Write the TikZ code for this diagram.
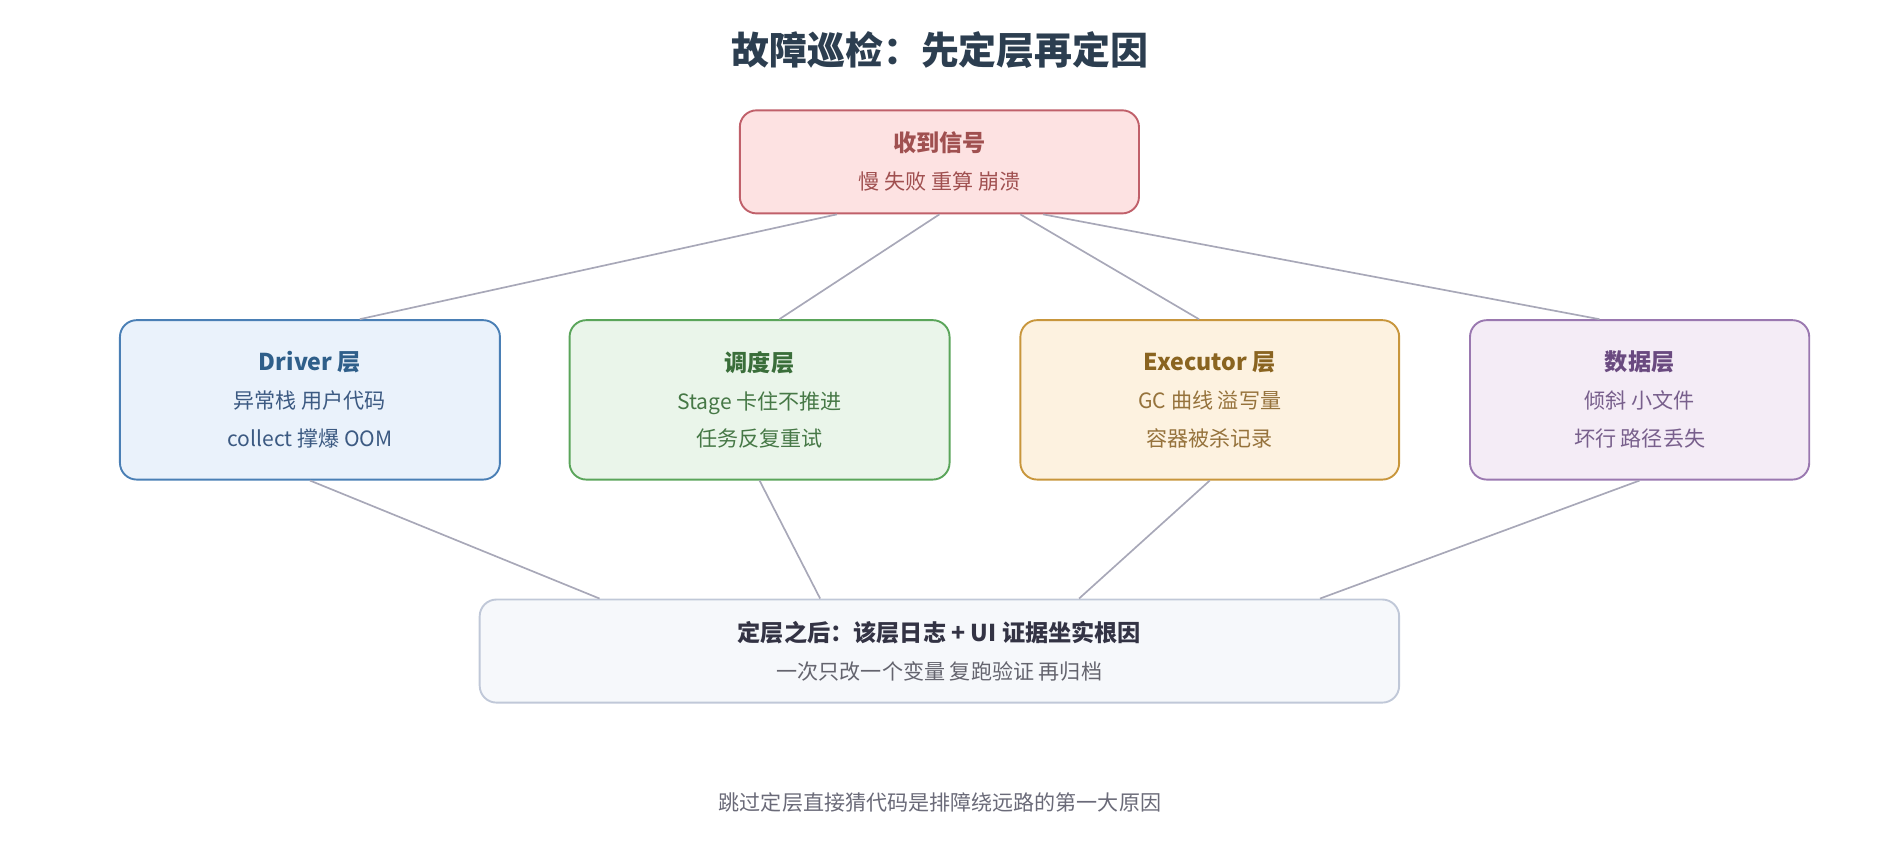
\documentclass[tikz,border=0pt]{standalone}
\usepackage{fontspec}
\setmainfont{Noto Sans CJK SC}
\usetikzlibrary{positioning}
\definecolor{titlecol}{HTML}{2C3E50}
\definecolor{linkcol}{HTML}{A8A8B8}
\begin{document}
\begin{tikzpicture}[x=0.02cm,y=-0.02cm,
layer/.style={draw, rounded corners=0.28cm, line width=0.9pt, align=center, inner sep=0pt,
  font=\fontsize{10}{18}\selectfont},
link/.style={draw=linkcol, line width=0.8pt}]
    \useasboundingbox (0,0) rectangle (1568,717);
    \node (title) at (784,42) {\fontsize{18}{22}\selectfont\bfseries\color{titlecol}故障巡检：先定层再定因};
    \node [layer, fill={rgb,255:red,253;green,226;blue,226}, draw={rgb,255:red,192;green,96;blue,106},
      minimum width=6.66cm, minimum height=1.72cm, text={rgb,255:red,160;green,80;blue,80}]
      (sig) at (783.5,135) {{\fontsize{11}{18}\selectfont\bfseries 收到信号}\\ 慢 失败 重算 崩溃};
    \node [layer, fill={rgb,255:red,234;green,242;blue,251}, draw={rgb,255:red,74;green,127;blue,181},
      minimum width=6.34cm, minimum height=2.66cm, text={rgb,255:red,60;green,90;blue,130}]
      (drv) at (258.5,333.5) {{\fontsize{11}{18}\selectfont\bfseries\color[HTML]{2F5F8A}Driver 层}\\ 异常栈 用户代码\\ collect 撑爆 OOM};
    \node [layer, fill={rgb,255:red,234;green,245;blue,234}, draw={rgb,255:red,90;green,165;blue,90},
      minimum width=6.34cm, minimum height=2.66cm, text={rgb,255:red,70;green,120;blue,70}]
      (sch) at (633.5,333.5) {{\fontsize{11}{18}\selectfont\bfseries\color[HTML]{3A6E3A}调度层}\\ Stage 卡住不推进\\ 任务反复重试};
    \node [layer, fill={rgb,255:red,253;green,242;blue,224}, draw={rgb,255:red,200;green,150;blue,60},
      minimum width=6.32cm, minimum height=2.66cm, text={rgb,255:red,150;green,115;blue,60}]
      (exe) at (1009,333.5) {{\fontsize{11}{18}\selectfont\bfseries\color[HTML]{8A6420}Executor 层}\\ GC 曲线 溢写量\\ 容器被杀记录};
    \node [layer, fill={rgb,255:red,244;green,236;blue,246}, draw={rgb,255:red,154;green,120;blue,176},
      minimum width=5.66cm, minimum height=2.66cm, text={rgb,255:red,120;green,95;blue,140}]
      (dat) at (1367.5,333.5) {{\fontsize{11}{18}\selectfont\bfseries\color[HTML]{6A4A80}数据层}\\ 倾斜 小文件\\ 坏行 路径丢失};
    \node [layer, fill={rgb,255:red,246;green,248;blue,251}, draw={rgb,255:red,192;green,200;blue,216},
      minimum width=15.34cm, minimum height=1.72cm, text={rgb,255:red,100;green,100;blue,110}]
      (fix) at (783.5,543) {{\fontsize{11}{18}\selectfont\bfseries\color[HTML]{333344}定层之后：该层日志 + UI 证据坐实根因}\\ 一次只改一个变量 复跑验证 再归档};
    \node (foot) at (784,669) {\fontsize{10}{12}\selectfont\color[HTML]{6A6A78}跳过定层直接猜代码是排障绕远路的第一大原因};
    % links
    \draw [link] ([xshift=-1.71cm]sig.south) -- ([xshift=0.83cm]drv.north);
    \draw [link] (sig.south) -- ([xshift=0.33cm]sch.north);
    \draw [link] ([xshift=1.35cm]sig.south) -- ([xshift=-0.18cm]exe.north);
    \draw [link] ([xshift=1.73cm]sig.south) -- ([xshift=-0.67cm]dat.north);
    \draw [link] (drv.south) -- ([xshift=-5.67cm]fix.north);
    \draw [link] (sch.south) -- ([xshift=-1.99cm]fix.north);
    \draw [link] (exe.south) -- ([xshift=2.33cm]fix.north);
    \draw [link] (dat.south) -- ([xshift=6.35cm]fix.north);
\end{tikzpicture}
\end{document}
